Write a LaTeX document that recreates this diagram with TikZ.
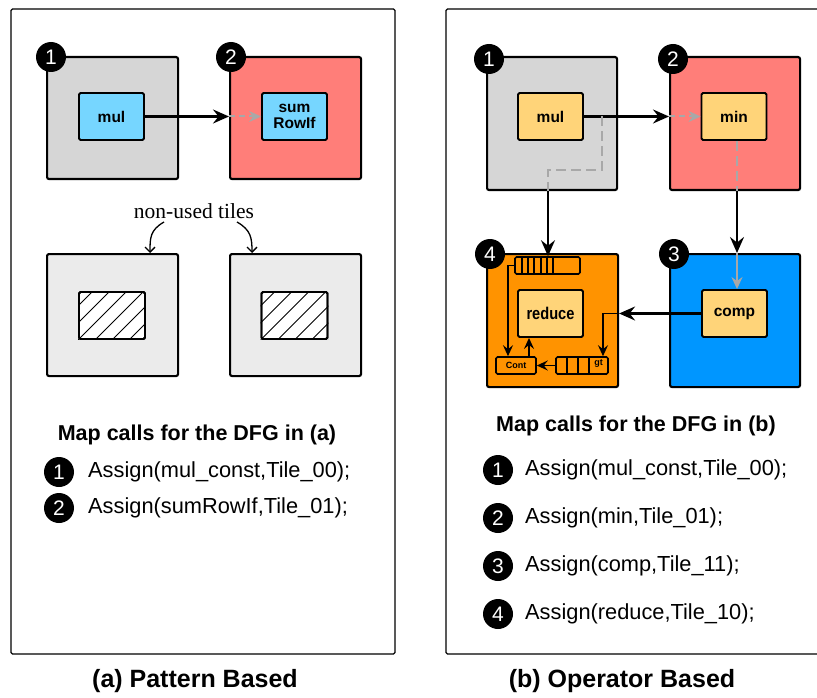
\documentclass[tikz,border=0pt]{standalone}
\usepackage{fontspec}
\setmainfont{Liberation Sans}
\newfontfamily\serifface{Liberation Serif}
\usetikzlibrary{arrows.meta,calc}
\definecolor{tilegray}{HTML}{D6D6D6}
\definecolor{idlegray}{HTML}{EBEBEB}
\definecolor{salmon}{HTML}{FF7E79}
\definecolor{sky}{HTML}{76D6FF}
\definecolor{tangerine}{HTML}{FF9300}
\definecolor{aqua}{HTML}{0096FF}
\definecolor{cantaloupe}{HTML}{FFD479}
\definecolor{flowgray}{HTML}{A8A8A8}
\tikzset{
  panel/.style={draw=black, line width=1.4pt, rounded corners=1.5pt},
  tile/.style={draw=black, line width=2.1pt, rounded corners=2pt, inner sep=0pt,
    anchor=north west, minimum width=#1},
  opbox/.style={draw=black, line width=1.9pt, rounded corners=1.5pt, inner sep=0pt,
    minimum width=65pt, minimum height=47pt, align=center,
    font=\bfseries\fontsize{15.5}{16.5}\selectfont},
  bufbox/.style={draw=black, line width=1.6pt, rounded corners=1.5pt, inner sep=0pt,
    minimum height=17pt, fill=tangerine},
  badge/.style={circle, fill=black, text=white, inner sep=0pt, minimum size=30pt,
    font=\fontsize{21}{21}\selectfont},
  flow/.style={draw=black, line width=2.1pt,
    -{Stealth[length=16pt,width=14pt,inset=5.5pt]}},
  flowsmall/.style={draw=black, line width=1.8pt,
    -{Stealth[length=11pt,width=10pt,inset=4pt]}},
  gflow/.style={draw=flowgray, line width=2pt, dash pattern=on 6pt off 4pt,
    -{Stealth[length=12pt,width=11pt,inset=4pt]}},
  gsolid/.style={draw=flowgray, line width=2pt,
    -{Stealth[length=12pt,width=11pt,inset=4pt]}},
  gdash/.style={draw=flowgray, line width=2pt, dash pattern=on 10pt off 5pt},
  note/.style={-{Straight Barb[length=5pt,width=10pt]}, line width=1.3pt},
  calltext/.style={anchor=west, inner sep=0pt, font=\fontsize{21.8}{24}\selectfont},
  calltitle/.style={inner sep=0pt, font=\bfseries\fontsize{21.5}{24}\selectfont},
  caption/.style={inner sep=0pt, font=\bfseries\fontsize{25}{28}\selectfont},
}
\begin{document}
\begin{tikzpicture}[x=1pt,y=-1pt]
\clip (0,0) rectangle (817,698);
\fill[white] (0,0) rectangle (817,698);

% ---------- frames ----------
\draw[panel] (11,9) rectangle (395,654);
\draw[panel] (446,9) rectangle (840,654);

% ---------- (a) pattern based ----------
\node[tile=131pt, minimum height=122pt, fill=tilegray] (a1) at (46,56) {};
\node[tile=131pt, minimum height=122pt, fill=salmon]   (a2) at (229,56) {};
\node[tile=131pt, minimum height=122pt, fill=idlegray] (a3) at (46,253) {};
\node[tile=131pt, minimum height=122pt, fill=idlegray] (a4) at (229,253) {};

\node[opbox, fill=sky] (amul) at (111.5,116.5) {mul};
\node[opbox, fill=sky] (asum) at (294.5,116.5) {sum\\[-1pt]RowIf};

\node[badge] (ab1) at (51,57) {1};
\node[badge] (ab2) at (231,57) {2};

\draw[flow] (amul.east) -- (a2.west |- amul.east);
\draw[gflow] (a2.west |- amul.east) -- (asum.west);

% hatched placeholders for unused tiles
\foreach \h/\cx in {h1/112, h2/294.5}{
  \node[opbox, minimum width=66pt, fill=white] (\h) at (\cx,315.5) {};
  \begin{scope}
    \clip (\h.south west) rectangle (\h.north east);
    \foreach \k in {-68,-51,...,80}
      \draw[line width=0.8pt] ($(\h.south west)+(\k,0)$) -- ++(70,-70);
  \end{scope}
  \node[opbox, minimum width=66pt] at (\h) {};
}

\node[inner sep=0pt, font=\serifface\fontsize{21.5}{24}\selectfont] (unused) at (194,211) {non-used tiles};
\coordinate (u1) at (164,222);
\coordinate (u2) at (237,222);
\draw[note] (u1) .. controls (150,230) and (150,238) .. (a3.north -| 150,0);
\draw[note] (u2) .. controls (251,230) and (252,238) .. (a4.north -| 252,0);

\node[calltitle] (ta) at (197,435) {Map calls for the DFG in (a)};
\node[badge] (la1) at (59,472) {1};
\node[calltext] (ca1) at (88,472) {Assign(mul\_const,Tile\_00);};
\node[badge] (la2) at (59,508) {2};
\node[calltext] (ca2) at (88,508) {Assign(sumRowIf,Tile\_01);};

\node[caption] (capa) at (195,681) {(a) Pattern Based};

% ---------- (b) operator based ----------
\node[tile=130pt, minimum height=133pt, fill=tilegray]  (b1) at (486,56) {};
\node[tile=130pt, minimum height=133pt, fill=salmon]    (b2) at (669,56) {};
\node[tile=131pt, minimum height=133pt, fill=tangerine] (b4) at (486,253) {};
\node[tile=130pt, minimum height=133pt, fill=aqua]      (b3) at (669,253) {};

\node[opbox, fill=cantaloupe] (bmul) at (550.5,116.5) {mul};
\node[opbox, fill=cantaloupe] (bmin) at (734,116.5) {min};
\node[opbox, fill=cantaloupe] (bcomp) at (734.5,313.5) {comp};
\node[opbox, fill=cantaloupe] (bred) at (550.5,313.5) {\scalebox{0.86}[1]{\fontsize{17}{18}\selectfont reduce}};

% input queue, control unit and predicate queue of the reduce tile
\node[bufbox, minimum width=65pt] (bq) at (547.5,265.5) {};
\foreach \dx in {522,528,534,541,547,553}
  \draw[line width=1.2pt] (\dx,0 |- bq.north) -- (\dx,0 |- bq.south);
\node[bufbox, minimum width=40pt, font=\bfseries\fontsize{9}{9}\selectfont] (cont) at (516,365.5) {Cont};
\node[bufbox, minimum width=52pt] (gtq) at (582,365.5) {};
\foreach \dx in {567,578,589}
  \draw[line width=1.2pt] (\dx,0 |- gtq.north) -- (\dx,0 |- gtq.south);
\node[inner sep=0pt, font=\bfseries\fontsize{9}{9}\selectfont] (gtl) at (598.5,364) {gt};

\node[badge] (bb1) at (489,59) {1};
\node[badge] (bb2) at (673,59) {2};
\node[badge] (bb4) at (490,254) {4};
\node[badge] (bb3) at (674,254) {3};

% routing
\coordinate (tap) at (602,170);
\coordinate (drop) at (548,170);
\coordinate (vx) at (737,0);
\coordinate (gx) at (603,0);
\coordinate (cx) at (508,0);
\coordinate (rx) at (529,0);

\draw[flow] (bmul.east) -- (b2.west |- bmul.east);
\draw[gflow] (b2.west |- bmul.east) -- (bmin.west);
\draw[gdash] (bmul.east -| tap) -- (tap) -- (drop) -- (drop |- b1.south);
\draw[flow] (drop |- b1.south) -- (drop |- bq.north);

\draw[gdash] (bmin.south -| vx) -- (b2.south -| vx);
\draw[flow] (b2.south -| vx) -- (b3.north -| vx);
\draw[gsolid] (b3.north -| vx) -- (bcomp.north -| vx);

\draw[flow] (bcomp.west) -- (b4.east |- bcomp.west);
\draw[flowsmall] (b4.east |- bcomp.west) -| (gtq.north -| gx);
\draw[flowsmall] (bq.west) -| (cont.north -| cx);
\draw[flowsmall] (cont.north -| rx) -- (bred.south -| rx);
\draw[flowsmall] (gtq.west) -- (cont.east);

\node[calltitle] (tb) at (636,426) {Map calls for the DFG in (b)};
\node[badge] (lb1) at (498,470) {1};
\node[calltext] (cb1) at (525,470) {Assign(mul\_const,Tile\_00);};
\node[badge] (lb2) at (498,518) {2};
\node[calltext] (cb2) at (525,518) {Assign(min,Tile\_01);};
\node[badge] (lb3) at (498,566) {3};
\node[calltext] (cb3) at (525,566) {Assign(comp,Tile\_11);};
\node[badge] (lb4) at (498,614) {4};
\node[calltext] (cb4) at (525,614) {Assign(reduce,Tile\_10);};

\node[caption] (capb) at (622,681) {(b) Operator Based};
\end{tikzpicture}
\end{document}
